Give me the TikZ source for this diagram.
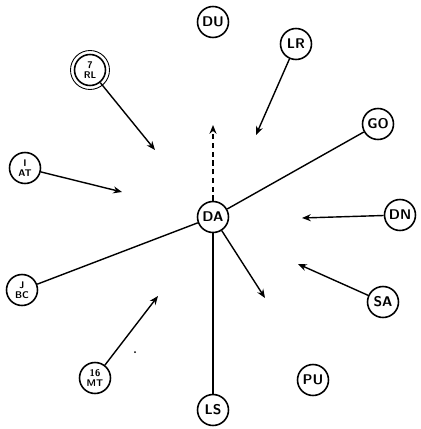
\documentclass[tikz,border=0pt]{standalone}
\usepackage{tikz}
\usetikzlibrary{arrows.meta}

\begin{document}
\begin{tikzpicture}[x=0.02cm,y=-0.02cm,
    stn/.style={draw,circle,line width=0.9pt,minimum size=0.62cm,inner sep=0pt,
      font=\sffamily\bfseries\footnotesize},
    stntwo/.style={stn,align=center,font=\sffamily\bfseries\fontsize{5.5}{5.5}\selectfont},
    arr/.style={line width=0.8pt,-{Stealth[length=5pt,width=4pt]}}]
  \useasboundingbox (0,0) rectangle (420,429);
  % stations
  \foreach \n/\x/\y/\t in {du/213/22/DU,lr/296/44/LR,go/378/124/GO,da/213/217/DA,
    dn/400/215/DN,sa/383/302/SA,pu/313/380/PU,ls/213/410/LS}{
    \node[stn] (\n) at (\x,\y) {\t};}
  \foreach \n/\x/\y/\t in {rl/90/70/7\\RL,at/25/168/I\\AT,bc/22/290/J\\BC,mt/95/378/16\\MT}{
    \node[stntwo] (\n) at (\x,\y) {\t};}
  \draw[line width=0.5pt] (rl) circle (19.5);
  % loose arrow ends
  \foreach \n/\x/\y in {rlend/155/150,atend/122/192,lrend/256/135,upend/213/125,
    dnend/302/218,saend/298/264,lowend/265/298,mtend/158/296}{
    \coordinate (\n) at (\x,\y);}
  \foreach \a/\b in {rl/rlend,at/atend,lr/lrend,dn/dnend,sa/saend,da/lowend,mt/mtend}{
    \draw[arr] (\a) -- (\b);}
  \draw[arr,densely dashed] (da) -- (upend);
  % through lines
  \draw[line width=0.8pt] (go) -- (da) -- (bc);
  \draw[line width=0.8pt] (da) -- (ls);
  \fill (135,352) circle (1);
\end{tikzpicture}
\end{document}
